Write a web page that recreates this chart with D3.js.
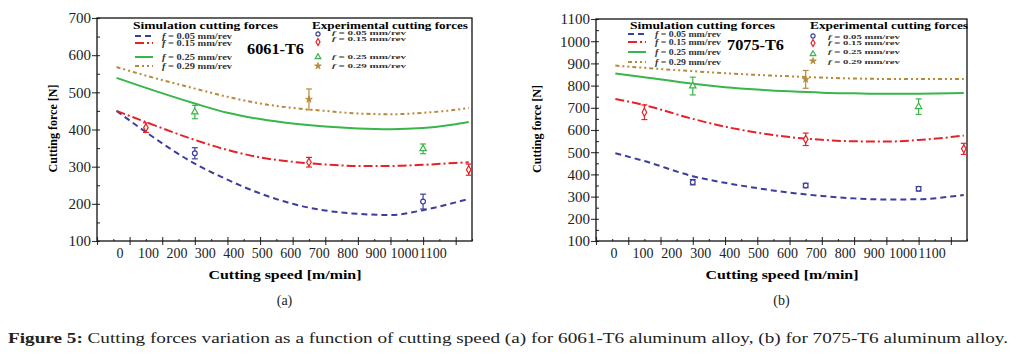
<!DOCTYPE html>
<html lang="en">
<head>
<meta charset="UTF-8">
<title>Cutting forces vs cutting speed</title>
<script src="https://cdn.jsdelivr.net/npm/d3@7"></script>
<style>
  body { margin: 0; background: #fff; }
  svg, svg text { font-family: "Liberation Serif", "Times New Roman", Times, "DejaVu Serif", serif; }
</style>
</head>
<body>
<div id="fig"></div>
<script>
const serif = "'Liberation Serif', 'Times New Roman', Times, 'DejaVu Serif', serif";

// feed rates f [mm/rev]
const feeds = ["0.05", "0.15", "0.25", "0.29"];
const speedTicks = [0, 100, 200, 300, 400, 500, 600, 700, 800, 900, 1000, 1100];
const speedMinor = [50, 150, 250, 350, 450, 550, 650, 750, 850, 950, 1050, 1150];

// simulated forces [N] vs cutting speed [m/min]
const simSpeeds = [60, 150, 300, 400, 500, 600, 700, 800, 900, 1000, 1100, 1140];
const sim6061_f005 = [450, 393, 308, 265, 228, 200, 182, 173, 170, 183, 204, 213];
const sim6061_f015 = [450, 420, 372, 345, 325, 313, 306, 302, 302, 305, 310, 312];
const sim6061_f025 = [539, 512, 470, 445, 428, 416, 408, 403, 401, 404, 414, 420];
const sim6061_f029 = [568, 545, 510, 488, 470, 458, 450, 443, 441, 445, 453, 458];

const sim7075_f005 = [495, 460, 392, 362, 338, 318, 303, 292, 287, 288, 300, 307];
const sim7075_f015 = [740, 712, 650, 615, 588, 568, 556, 549, 548, 555, 568, 575];
const sim7075_f025 = [855, 838, 808, 793, 782, 774, 768, 765, 763, 763, 765, 767];
const sim7075_f029 = [890, 880, 865, 856, 848, 842, 836, 832, 830, 830, 830, 830];

// measured forces: [speed, force, error]
const exp6061_f005 = [[300, 336, 15], [1000, 206, 20]];
const exp6061_f015 = [[150, 405, 13], [650, 312, 13], [1140, 292, 15]];
const exp6061_f025 = [[300, 447, 18], [1000, 348, 13]];
const exp6061_f029 = [[650, 481, 28]];

const exp7075_f005 = [[300, 365, 12], [650, 350, 10], [1000, 335, 10]];
const exp7075_f015 = [[150, 680, 33], [650, 558, 28], [1140, 515, 25]];
const exp7075_f025 = [[300, 798, 40], [1000, 705, 35]];
const exp7075_f029 = [[650, 828, 40]];

const colors = ["#3d3d9e", "#e52228", "#39b54a", "#b8893a"];
const dashes = ["6,4", "9,3,2,3", null, "4,3,2,3,2,3"];
const symbols = [d3.symbolCircle, d3.symbolDiamond, d3.symbolTriangle, d3.symbolStar];

const width = 1013, height = 355;
const svg = d3.select("#fig").append("svg")
    .attr("width", width)
    .attr("height", height)
    .attr("font-family", serif);

const panels = [
    {
        alloy: "6061-T6", left: 97, top: 18, w: 375, h: 223, yMax: 700,
        sim: [sim6061_f005, sim6061_f015, sim6061_f025, sim6061_f029],
        exp: [exp6061_f005, exp6061_f015, exp6061_f025, exp6061_f029],
        labRange: [23, 336], yTitleX: -40, tag: "(a)",
        simLeg: { x: 36, y: 11, rows: [18, 25, 39, 48], lineX: 38, textX: 65, len: 70 },
        alloyPos: [150, 36],
        expLeg: { x: 215, y: 11, rows: [16, 24, 39, 48], textRows: [17, 23, 41, 50], mX: 221, textX: 235, len: 74, titleLen: 156 }
    },
    {
        alloy: "7075-T6", left: 596, top: 19, w: 371, h: 222, yMax: 1100,
        sim: [sim7075_f005, sim7075_f015, sim7075_f025, sim7075_f029],
        exp: [exp7075_f005, exp7075_f015, exp7075_f025, exp7075_f029],
        labRange: [18, 336], yTitleX: -55, tag: "(b)",
        simLeg: { x: 34, y: 10, rows: [15, 23, 33, 43], lineX: 32, textX: 59, len: 66 },
        alloyPos: [131, 31],
        expLeg: { x: 214, y: 10, rows: [17, 24, 35, 42], textRows: [20, 26, 35, 45], mX: 217, textX: 232, len: 72, titleLen: 158 }
    }
];

panels.forEach(p => {
    const g = svg.append("g").attr("transform", `translate(${p.left},${p.top})`);
    const x = d3.scaleLinear().domain([0, 1150]).range([0, p.w]);
    const y = d3.scaleLinear().domain([100, p.yMax]).range([p.h, 0]);
    const yMajor = d3.range(100, p.yMax + 1, 100);
    const yMinor = d3.range(150, p.yMax, 100);

    // x axis: crossing major ticks, small minor ticks
    g.append("g").attr("class", "ax").attr("transform", `translate(0,${p.h})`)
        .call(d3.axisBottom(x).tickValues(speedTicks).tickSize(4).tickFormat(""));
    g.append("g").attr("class", "ax").attr("transform", `translate(0,${p.h})`)
        .call(d3.axisTop(x).tickValues(speedTicks).tickSize(4).tickFormat(""));
    g.append("g").attr("class", "ax").attr("transform", `translate(0,${p.h})`)
        .call(d3.axisTop(x).tickValues(speedMinor).tickSize(2).tickFormat(""));

    // tick labels sit where the original put them, not under the ticks
    const lab = d3.scalePoint().domain(speedTicks.map(String)).range(p.labRange);
    g.append("g").selectAll("text")
        .data(speedTicks.map(String))
        .join("text")
        .attr("x", d => lab(d))
        .attr("y", p.h + 17)
        .attr("text-anchor", "middle")
        .attr("font-family", serif)
        .attr("font-size", 14)
        .attr("fill", "#222")
        .text(d => d);

    // y axis
    g.append("g").attr("class", "ax")
        .call(d3.axisLeft(y).tickValues(yMajor).tickSize(5).tickPadding(1).tickFormat(d3.format("d")));
    g.append("g").attr("class", "ax")
        .call(d3.axisRight(y).tickValues(yMajor).tickSize(3).tickFormat(""));
    g.append("g").attr("class", "ax")
        .call(d3.axisRight(y).tickValues(yMinor).tickSize(3).tickFormat(""));

    g.selectAll(".ax").attr("font-family", serif);
    g.selectAll(".ax path").remove();
    g.selectAll(".ax line").attr("stroke", "#333").attr("stroke-width", 1.1);
    g.selectAll(".ax text").attr("font-size", 15).attr("fill", "#222");

    // frame
    g.append("rect")
        .attr("width", p.w).attr("height", p.h)
        .attr("fill", "none").attr("stroke", "#111").attr("stroke-width", 1.3);

    // axis titles
    g.append("text")
        .attr("transform", `translate(${p.yTitleX},${p.h / 2 - 1}) rotate(-90)`)
        .attr("text-anchor", "middle")
        .attr("font-weight", "bold").attr("font-size", 12)
        .attr("textLength", 88).attr("lengthAdjust", "spacingAndGlyphs")
        .text("Cutting force [N]");
    g.append("text")
        .attr("x", p.w / 2 - 76).attr("y", p.h + 38)
        .attr("font-weight", "bold").attr("font-size", 13)
        .attr("textLength", 153).attr("lengthAdjust", "spacingAndGlyphs")
        .text("Cutting speed [m/min]");

    // simulated curves
    const line = d3.line()
        .x((d, i) => x(simSpeeds[i]))
        .y(d => y(d))
        .curve(d3.curveMonotoneX);
    p.sim.forEach((s, i) => {
        g.append("path")
            .attr("d", line(s))
            .attr("fill", "none")
            .attr("stroke", colors[i])
            .attr("stroke-width", 2)
            .attr("stroke-dasharray", dashes[i]);
    });

    // experimental points with error bars
    p.exp.forEach((s, i) => {
        const eg = g.append("g").attr("stroke", colors[i]).attr("stroke-width", 1.2);
        s.forEach(([v, f, e]) => {
            const cx = x(v);
            eg.append("line").attr("x1", cx).attr("x2", cx).attr("y1", y(f - e)).attr("y2", y(f + e));
            eg.append("line").attr("x1", cx - 3).attr("x2", cx + 3).attr("y1", y(f - e)).attr("y2", y(f - e));
            eg.append("line").attr("x1", cx - 3).attr("x2", cx + 3).attr("y1", y(f + e)).attr("y2", y(f + e));
            eg.append("path")
                .attr("transform", `translate(${cx},${y(f)})`)
                .attr("d", d3.symbol(symbols[i], i === 3 ? 14 : 18)())
                .attr("stroke-width", i === 3 ? 0.8 : 1.2)
                .attr("fill", i === 3 ? colors[i] : "#fff");
        });
    });

    // simulation legend
    const sl = p.simLeg;
    g.append("text")
        .attr("x", sl.x).attr("y", sl.y)
        .attr("font-weight", "bold").attr("font-size", 11)
        .attr("textLength", 145).attr("lengthAdjust", "spacingAndGlyphs")
        .text("Simulation cutting forces");
    feeds.forEach((f, i) => {
        g.append("line")
            .attr("x1", sl.lineX).attr("x2", sl.lineX + 18)
            .attr("y1", sl.rows[i]).attr("y2", sl.rows[i])
            .attr("stroke", colors[i]).attr("stroke-width", 2)
            .attr("stroke-dasharray", dashes[i]);
        const t = g.append("text")
            .attr("x", sl.textX).attr("y", sl.rows[i] + 2.5)
            .attr("font-size", 7.5).attr("font-weight", "bold").attr("fill", "#333")
            .attr("textLength", sl.len).attr("lengthAdjust", "spacingAndGlyphs");
        t.append("tspan").attr("font-style", "italic").text("f");
        t.append("tspan").text(` = ${f} mm/rev`);
    });

    // alloy label
    g.append("text")
        .attr("x", p.alloyPos[0]).attr("y", p.alloyPos[1])
        .attr("font-weight", "bold").attr("font-size", 15)
        .attr("textLength", 57).attr("lengthAdjust", "spacingAndGlyphs")
        .text(p.alloy);

    // experimental legend
    const el = p.expLeg;
    g.append("text")
        .attr("x", el.x).attr("y", el.y)
        .attr("font-weight", "bold").attr("font-size", 11)
        .attr("textLength", el.titleLen).attr("lengthAdjust", "spacingAndGlyphs")
        .text("Experimental cutting forces");
    feeds.forEach((f, i) => {
        g.append("path")
            .attr("transform", `translate(${el.mX},${el.rows[i]})`)
            .attr("d", d3.symbol(symbols[i], i === 3 ? 14 : 14)())
            .attr("fill", i === 3 ? colors[i] : "#fff")
            .attr("stroke", colors[i]).attr("stroke-width", i === 3 ? 0.8 : 1.2);
        const t = g.append("text")
            .attr("x", el.textX).attr("y", el.textRows[i])
            .attr("font-size", 6.5).attr("font-weight", "bold").attr("fill", "#333")
            .attr("textLength", el.len).attr("lengthAdjust", "spacingAndGlyphs");
        t.append("tspan").attr("font-style", "italic").text("f");
        t.append("tspan").text(` = ${f} mm/rev`);
    });

    // panel tag
    svg.append("text")
        .attr("x", p.left + p.w / 2).attr("y", 305)
        .attr("text-anchor", "middle")
        .attr("font-size", 14).attr("fill", "#222")
        .text(p.tag);
});

// caption
const cap = svg.append("text")
    .attr("x", 8).attr("y", 343)
    .attr("font-size", 15).attr("fill", "#222")
    .attr("textLength", 1000).attr("lengthAdjust", "spacingAndGlyphs");
cap.append("tspan").attr("font-weight", "bold").text("Figure 5:");
cap.append("tspan").text(" Cutting forces variation as a function of cutting speed (a) for 6061-T6 aluminum alloy, (b) for 7075-T6 aluminum alloy.");
</script>
</body>
</html>
